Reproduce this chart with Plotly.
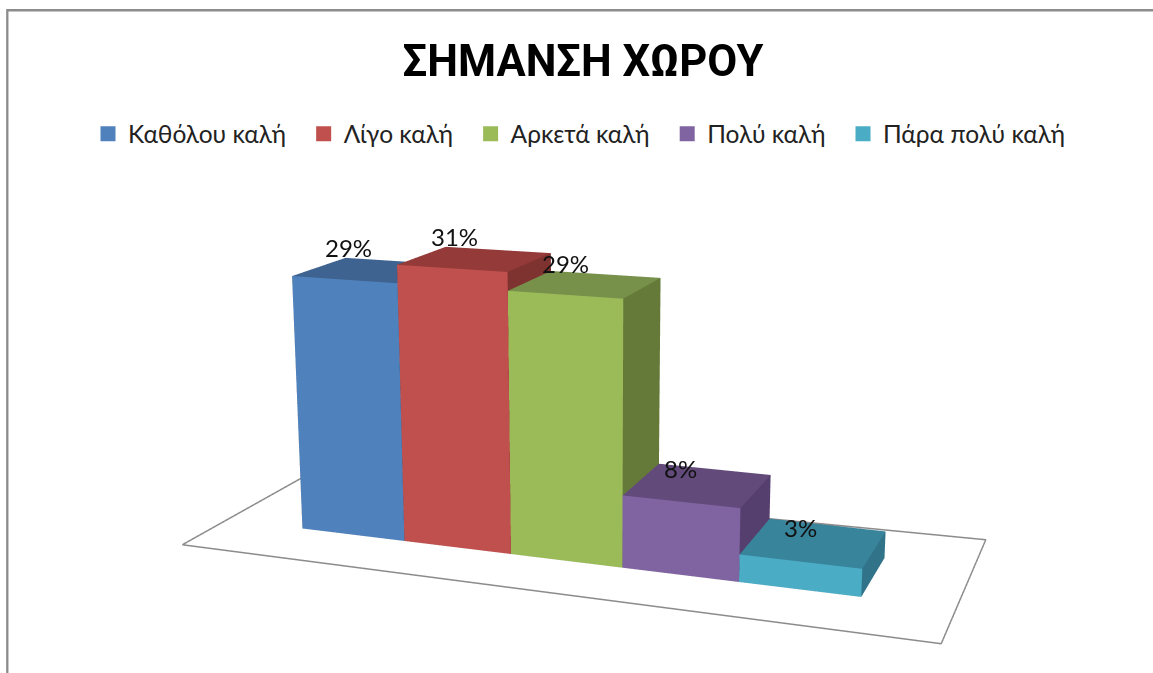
import numpy as np
import plotly.graph_objects as go

categories = ["Καθόλου καλή", "Λίγο καλή", "Αρκετά καλή", "Πολύ καλή", "Πάρα πολύ καλή"]
values = [29, 31, 29, 8, 3]
front = ["#4F81BD", "#C0504D", "#9BBB59", "#8064A2", "#4BACC6"]
top = ["#3E6390", "#943A38", "#77904A", "#624B7B", "#38849B"]
side = ["#36567D", "#7F3330", "#657A38", "#553F6E", "#317388"]
floor_x = [-0.759, 5.749, 5.738, -0.763, -0.759]
floor_y = [-0.759, -0.774, 1.785, 1.537, -0.759]
label_xshift = [-22.7, -21.6, -20.8, -17.2, -13.2]
label_yshift = [22.3, 22.1, 20.5, 16.3, 15.0]

# The figure is taller than the window so that Plotly's fixed 45-degree lens
# gives the reference's long focal length; the page is shifted up by `off`.
W, H = 1153, 1456
off = 354.74
cu = 585.734
depth_scale, height_scale = 0.97821, 0.07837
E = np.array([7.4683, -13.0702, 4.9756])
yaw, pitch, roll = -0.35136, -0.23548, -0.00151

fw = np.array([np.sin(yaw)*np.cos(pitch), np.cos(yaw)*np.cos(pitch), np.sin(pitch)])
r = np.cross(fw, [0, 0, 1]); r /= np.linalg.norm(r)
u = np.cross(r, fw)
u = -np.sin(roll)*r + np.cos(roll)*u

xr, yr, zr = [-3.0, 8.0], [-3.0, 6.0], [0.0, 40.0]
k = 1/11.0
aspect = dict(x=k*11, y=k*depth_scale*9, z=k*height_scale*40)
mid = np.array([np.mean(xr), np.mean(yr)*depth_scale, np.mean(zr)*height_scale])
eye = k*(E-mid)
cen = k*(E+fw*8-mid)

fig = go.Figure()
fig.add_trace(go.Scatter3d(x=floor_x, y=floor_y, z=[0]*5, mode="lines",
                           line=dict(color="#8c8c8c", width=3), hoverinfo="skip", showlegend=False))
for i, (n, v) in enumerate(zip(categories, values)):
    X = [i, i+1, i+1, i, i, i+1, i+1, i]
    Y = [0, 0, 1, 1, 0, 0, 1, 1]
    Z = [0, 0, 0, 0, v, v, v, v]
    I = [0, 0, 4, 4, 1, 1, 0, 0, 3, 3, 0, 0]
    J = [1, 5, 5, 6, 2, 6, 1, 2, 2, 6, 3, 7]
    K = [5, 4, 6, 7, 6, 5, 2, 3, 6, 7, 7, 4]
    fc = [front[i]]*2 + [top[i]]*2 + [side[i]]*8
    fig.add_trace(go.Mesh3d(x=X, y=Y, z=Z, i=I, j=J, k=K, facecolor=fc, flatshading=True,
                            lighting=dict(ambient=1, diffuse=0, specular=0, roughness=1, fresnel=0),
                            hoverinfo="skip", showlegend=False))
    fig.add_trace(go.Scatter(x=[None], y=[None], mode="markers", name=n + "\u00a0\u00a0",
                             marker=dict(symbol="square", size=15, color=front[i])))

labels = [dict(x=i+0.5, y=0.5, z=v, text=f"{v}%", showarrow=False,
               xshift=label_xshift[i], yshift=label_yshift[i],
               font=dict(family="Lato", size=24, color="#111"))
          for i, v in enumerate(values)]

fig.update_layout(
    width=W, height=H, margin=dict(l=0, r=0, t=0, b=0),
    paper_bgcolor="white", plot_bgcolor="white",
    title=dict(text="ΣΗΜΑΝΣΗ ΧΩΡΟΥ", x=583/W, y=1-(61+off)/H, xanchor="center", yanchor="middle",
               font=dict(family="Roboto", size=43.5, color="black", weight="bold")),
    legend=dict(orientation="h", x=88/W, xanchor="left", y=1-(134+off)/H, yanchor="middle",
                font=dict(family="Lato", size=24.5, color="#222"), itemwidth=30),
    xaxis=dict(visible=False), yaxis=dict(visible=False),
    scene=dict(domain=dict(x=[2*(cu-W/2)/W, 1], y=[0, 1]),
               xaxis=dict(visible=False, range=xr), yaxis=dict(visible=False, range=yr),
               zaxis=dict(visible=False, range=zr),
               aspectmode="manual", aspectratio=aspect, annotations=labels,
               camera=dict(eye=dict(x=eye[0], y=eye[1], z=eye[2]),
                           center=dict(x=cen[0], y=cen[1], z=cen[2]),
                           up=dict(x=u[0], y=u[1], z=u[2]))),
    shapes=[dict(type="rect", xref="paper", yref="paper", x0=7.3/W, x1=1.05, y0=-0.1, y1=1-(10.5+off)/H,
                 line=dict(color="#8c8c8c", width=2.3), layer="below")],
)
fig.write_html("out.html", config=dict(displayModeBar=False),
               post_script=f"document.body.style.margin='0';document.body.style.marginTop='{-off}px';"
                           "document.documentElement.style.overflow='hidden';document.body.style.overflow='hidden';")
